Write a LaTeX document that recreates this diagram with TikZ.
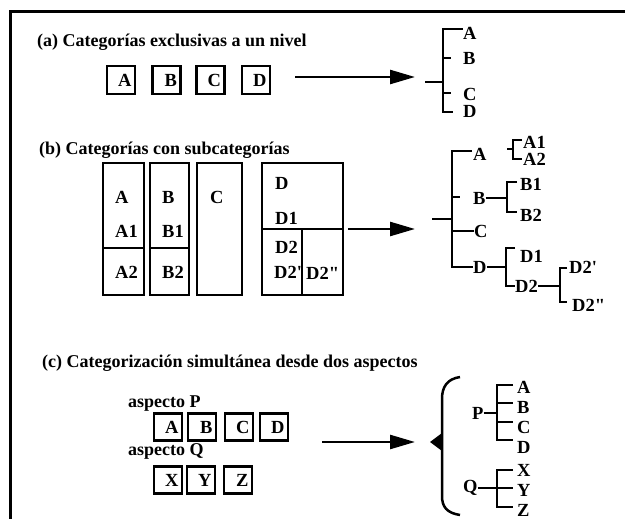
\documentclass[tikz,border=0pt]{standalone}
\usepackage{fontspec}
\setmainfont{Liberation Serif}
\usetikzlibrary{arrows.meta}
\begin{document}
\begin{tikzpicture}[x=1pt,y=-1pt,
  txt/.style={font=\fontsize{18.5}{20}\selectfont\bfseries, inner sep=0pt},
  ttl/.style={font=\fontsize{18}{20}\selectfont\bfseries, inner sep=0pt, anchor=base west},
  lbl/.style={txt, anchor=west},
  cbox/.style={draw, line width=2.5pt, minimum height=28pt, text width=21pt, inner sep=3.5pt, align=right, font=\fontsize{18.5}{20}\selectfont\bfseries},
  sbox/.style={cbox, minimum height=27pt},
  col/.style={draw, line width=2.2pt, inner sep=0pt},
  ln/.style={line width=2.5pt},
  bigarrow/.style={line width=2.5pt, -{Triangle[length=25pt,width=14pt]}},
]
\useasboundingbox (0,0) rectangle (625,519);
% frame
\draw[line width=3.5pt] (10.5,519) -- (10.5,11.5) -- (625,11.5);

% ---------------- (a)
\node[ttl] (ta) at (37,47) {(a) Categorías exclusivas a un nivel};
\node[cbox] (aA) at (121,80) {A};
\node[cbox] (aB) at (166.5,80) {B};
\node[cbox] (aC) at (210.5,80) {C};
\node[cbox] (aD) at (256,80) {D};
\coordinate (aS) at (295,77);
\coordinate (aE) at (415,77);
\draw[bigarrow] (aS) -- (aE);

\node[lbl] (qA) at (463,33) {A};
\node[lbl] (qB) at (463,58.5) {B};
\node[lbl] (qC) at (463,94.5) {C};
\node[lbl] (qD) at (463,111.5) {D};
\coordinate (qR) at (425,82);
\coordinate (qV) at (443,82);
\draw[ln] (qR) -- (qV);
\draw[ln] (qA.west |- 0,29) -- (443,29) -- (443,112) -- (453,112);
\draw[ln] (443,58) -- (451,58);
\draw[ln] (443,93) -- (451,93);

% ---------------- (b)
\node[ttl] (tb) at (39,155) {(b) Categorías con subcategorías};
\draw[col] (103,163) rectangle (144,295);
\draw[col] (103,248) -- (144,248);
\draw[col] (150,163) rectangle (189,295);
\draw[col] (150,248) -- (189,248);
\draw[col] (197,163) rectangle (242,295);
\draw[col] (262,163) rectangle (343,295);
\draw[col] (262,229) -- (343,229);
\draw[col] (302,229) -- (302,295);
\node[lbl] (bA) at (115,197) {A};
\node[lbl] (bA1) at (115,231) {A1};
\node[lbl] (bA2) at (115,272) {A2};
\node[lbl] (bB) at (162,197) {B};
\node[lbl] (bB1) at (162,231) {B1};
\node[lbl] (bB2) at (162,272) {B2};
\node[lbl] (bC) at (210,197) {C};
\node[lbl] (bD) at (275,183) {D};
\node[lbl] (bD1) at (275,218) {D1};
\node[lbl] (bD2) at (275,247) {D2};
\node[lbl] (bD2a) at (274,272) {D2\textquotesingle};
\node[lbl] (bD2b) at (306,273) {D2\textquotedbl};
\coordinate (bS) at (348,229);
\coordinate (bE) at (415,229);
\draw[bigarrow] (bS) -- (bE);

% tree (b)
\node[lbl] (rA) at (473,154) {A};
\node[lbl] (rA1) at (523,142) {A1};
\node[lbl] (rA2) at (523,159) {A2};
\node[lbl] (rB) at (473,198) {B};
\node[lbl] (rB1) at (520,184) {B1};
\node[lbl] (rB2) at (520,215) {B2};
\node[lbl] (rC) at (474,231) {C};
\node[lbl] (rD) at (473,267) {D};
\node[lbl] (rD1) at (520,256) {D1};
\node[lbl] (rD2) at (515,286) {D2};
\node[lbl] (rD2a) at (569,267) {D2\textquotesingle};
\node[lbl] (rD2b) at (572,305) {D2\textquotedbl};
\draw[ln] (432,219) -- (452,219);
\draw[ln] (472,151) -- (452,151) -- (452,267) -- (rD.west);
\draw[ln] (452,197) -- (460,197);
\draw[ln] (452,231) -- (rC.west);
\draw[ln] (507,149) -- (513,149);
\draw[ln] (522,140) -- (513,140) -- (513,159) -- (522,159);
\draw[ln] (rB.east) -- (507,198);
\draw[ln] (517,182) -- (507,182) -- (507,212) -- (517,212);
\draw[ln] (rD.east) -- (506,267);
\draw[ln] (515,248) -- (506,248) -- (506,286) -- (515,286);
\draw[ln] (rD2.east) -- (560,286);
\draw[ln] (567,268) -- (560,268) -- (560,302) -- (567,302);

% ---------------- (c)
\node[ttl] (tc) at (42,367) {(c) Categorización simultánea desde dos aspectos};
\node[ttl] (aspP) at (128,407) {aspecto P};
\node[sbox] (cA) at (168,427) {A};
\node[sbox] (cB) at (202,427) {B};
\node[sbox] (cC) at (239,427) {C};
\node[sbox] (cD) at (274,427) {D};
\node[ttl] (aspQ) at (128,455) {aspecto Q};
\node[sbox] (cX) at (168,480) {X};
\node[sbox] (cY) at (201,480) {Y};
\node[sbox] (cZ) at (238,480) {Z};
\coordinate (cS) at (322,442);
\coordinate (cE) at (415,442);
\draw[bigarrow] (cS) -- (cE);

% brace
\draw[ln] (460,377) .. controls (447,379) and (442,387) .. (442,399) -- (442,496) .. controls (442,507) and (447,513) .. (460,515);
\coordinate (brT) at (430,442);
\fill (442,433) -- (brT) -- (442,451) -- cycle;

\node[lbl] (sP) at (472,413) {P};
\node[lbl] (sA) at (517,387) {A};
\node[lbl] (sB) at (517,407) {B};
\node[lbl] (sC) at (517,427) {C};
\node[lbl] (sD) at (517,447) {D};
\draw[ln] (sP.east) -- (497,413);
\draw[ln] (513,385) -- (497,385) -- (497,440) -- (513,440);
\draw[ln] (497,403) -- (513,403);
\draw[ln] (497,422) -- (513,422);
\node[lbl] (sQ) at (463,488) {Q};
\node[lbl] (sX) at (517,470) {X};
\node[lbl] (sY) at (517,490) {Y};
\node[lbl] (sZ) at (517,510) {Z};
\draw[ln] (sQ.east) -- (497,488) -- (513,488);
\draw[ln] (513,470) -- (497,470) -- (497,507) -- (513,507);
\end{tikzpicture}
\end{document}
